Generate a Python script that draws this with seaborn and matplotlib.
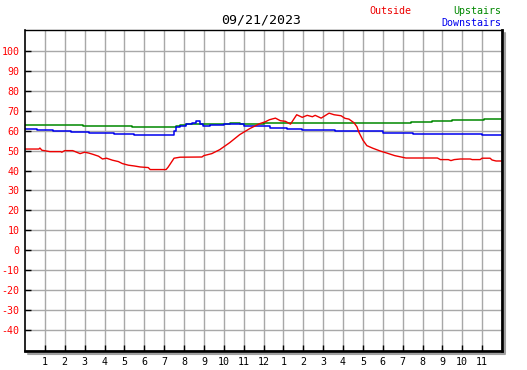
import matplotlib
matplotlib.use("Agg")
import matplotlib.pyplot as plt
from matplotlib.lines import Line2D
import seaborn as sns
import pandas as pd

# ---- data ----
outside_h = [0, 0.7, 0.75, 0.85, 1.25, 1.8, 1.85, 2.0, 2.4, 2.6, 2.77, 3.0, 3.2, 3.4, 3.7, 3.9,
             4.1, 4.4, 4.7, 4.9, 5.2, 5.5, 5.8, 6.2, 6.3, 7.1, 7.2, 7.5, 7.8, 8.9, 9.0, 9.4,
             9.8, 10.3, 10.8, 11.3, 11.8, 12.1, 12.3, 12.6, 12.85, 13.1, 13.36, 13.67, 13.95,
             14.2, 14.46, 14.6, 14.9, 15.3, 15.55, 15.9, 16.1, 16.3, 16.55, 16.7, 16.8, 17.0,
             17.2, 17.5, 17.9, 18.2, 18.6, 19.16, 20.75, 20.9, 21.3, 21.43, 21.6, 21.9, 22.4,
             22.5, 22.9, 23.0, 23.4, 23.5, 23.7, 24.0]
outside_v = [50.8, 50.8, 51.3, 50.2, 49.5, 49.5, 49.2, 50.0, 50.0, 49.2, 48.5, 49.2, 48.8, 48.2,
             47.2, 45.8, 46.2, 45.2, 44.5, 43.5, 42.7, 42.3, 41.8, 41.5, 40.5, 40.5, 41.7, 46.2,
             46.7, 46.8, 47.5, 48.5, 50.5, 54.0, 58.0, 61.0, 63.5, 64.5, 65.5, 66.3, 65.0, 64.7,
             63.3, 68.0, 66.7, 67.7, 67.0, 67.7, 66.3, 68.8, 68.0, 67.5, 66.2, 65.8, 64.0, 62.0,
             59.2, 55.3, 52.5, 51.2, 49.7, 48.8, 47.5, 46.3, 46.3, 45.5, 45.5, 45.0, 45.5, 45.8,
             45.8, 45.5, 45.5, 46.2, 46.2, 45.3, 44.8, 44.8]

upstairs_h = [0, 2.9, 5.4, 7.4, 7.6, 7.8, 8.1, 10.3, 10.8, 12.0, 19.4, 20.5, 21.5, 23.1, 24.0]
upstairs_v = [63.0, 62.4, 61.8, 61.6, 62.3, 63.0, 63.3, 63.8, 63.4, 63.8, 64.3, 64.8, 65.3, 65.8, 65.8]

downstairs_h = [0, 0.6, 1.4, 2.3, 3.2, 4.5, 5.5, 7.5, 7.6, 7.8, 8.1, 8.4, 8.6, 8.8, 8.95, 9.3,
                10.0, 11.0, 12.35, 13.2, 13.95, 15.6, 18.0, 19.5, 23.0, 24.0]
downstairs_v = [60.8, 60.2, 59.8, 59.2, 58.8, 58.3, 57.8, 60.0, 62.0, 62.5, 63.2, 64.0, 64.7, 63.5,
                62.3, 62.8, 63.2, 62.5, 61.5, 60.8, 60.2, 59.8, 58.8, 58.3, 57.8, 57.8]

hour_ticks = list(range(1, 24))
hour_labels = [str(h) for h in range(1, 13)] + [str(h) for h in range(1, 12)]
temp_ticks = list(range(-40, 101, 10))
title = "09/21/2023"

# ---- figure ----
sns.set_style("white")
plt.rcParams['font.family'] = ['DejaVu Sans Mono', 'DejaVu Sans']

W, H = 527, 370
fig = plt.figure(figsize=(W / 100, H / 100), dpi=100)
ax = fig.add_axes([25 / W, 1 - 351 / H, 477 / W, 321 / H])

df_out = pd.DataFrame({"h": outside_h, "v": outside_v})
df_up = pd.DataFrame({"h": upstairs_h, "v": upstairs_v})
df_dn = pd.DataFrame({"h": downstairs_h, "v": downstairs_v})

sns.lineplot(data=df_up, x="h", y="v", ax=ax, color="#008800", lw=1.1,
             drawstyle="steps-post", estimator=None, sort=False)
sns.lineplot(data=df_dn, x="h", y="v", ax=ax, color="#0000ee", lw=1.1,
             drawstyle="steps-post", estimator=None, sort=False)
sns.lineplot(data=df_out, x="h", y="v", ax=ax, color="#ee0000", lw=1.0,
             estimator=None, sort=False)

ax.set_xlim(0, 24)
ax.set_ylim(-50.5, 110.5)
ax.set_xticks(hour_ticks)
ax.set_xticklabels(hour_labels, fontsize=7.2, color="black")
ax.set_yticks(temp_ticks)
ax.set_yticklabels([str(t) for t in temp_ticks], fontsize=7.2, color="red")
ax.set_xlabel("")
ax.set_ylabel("")

ax.grid(True, color="#a8a8a8", lw=1.0)
ax.set_axisbelow(True)
ax.tick_params(axis="both", direction="in", length=4, width=1, color="black",
               left=True, bottom=True, pad=4)

for side, lw in (("left", 1.2), ("bottom", 2.0), ("right", 2.0), ("top", 1.0)):
    ax.spines[side].set_visible(True)
    ax.spines[side].set_color("black")
    ax.spines[side].set_linewidth(lw)

# drop shadow on right and bottom
fig.add_artist(Line2D([505 / W, 505 / W], [1 - 353 / H, 1 - 33 / H],
                      transform=fig.transFigure, color="#a0a0a0", lw=1.5))
fig.add_artist(Line2D([28 / W, 505 / W], [1 - 353.5 / H, 1 - 353.5 / H],
                      transform=fig.transFigure, color="#a0a0a0", lw=1.5))

fig.text(261 / W, 1 - 20 / H, title, ha="center", va="center", fontsize=9.5, color="black")
fig.text(369 / W, 1 - 11 / H, "Outside", ha="left", va="center", fontsize=7.2, color="#ee0000")
fig.text(501 / W, 1 - 11 / H, "Upstairs", ha="right", va="center", fontsize=7.2, color="#008800")
fig.text(501 / W, 1 - 23 / H, "Downstairs", ha="right", va="center", fontsize=7.2, color="#0000ee")

fig.savefig("out.png", dpi=100, facecolor="white")
